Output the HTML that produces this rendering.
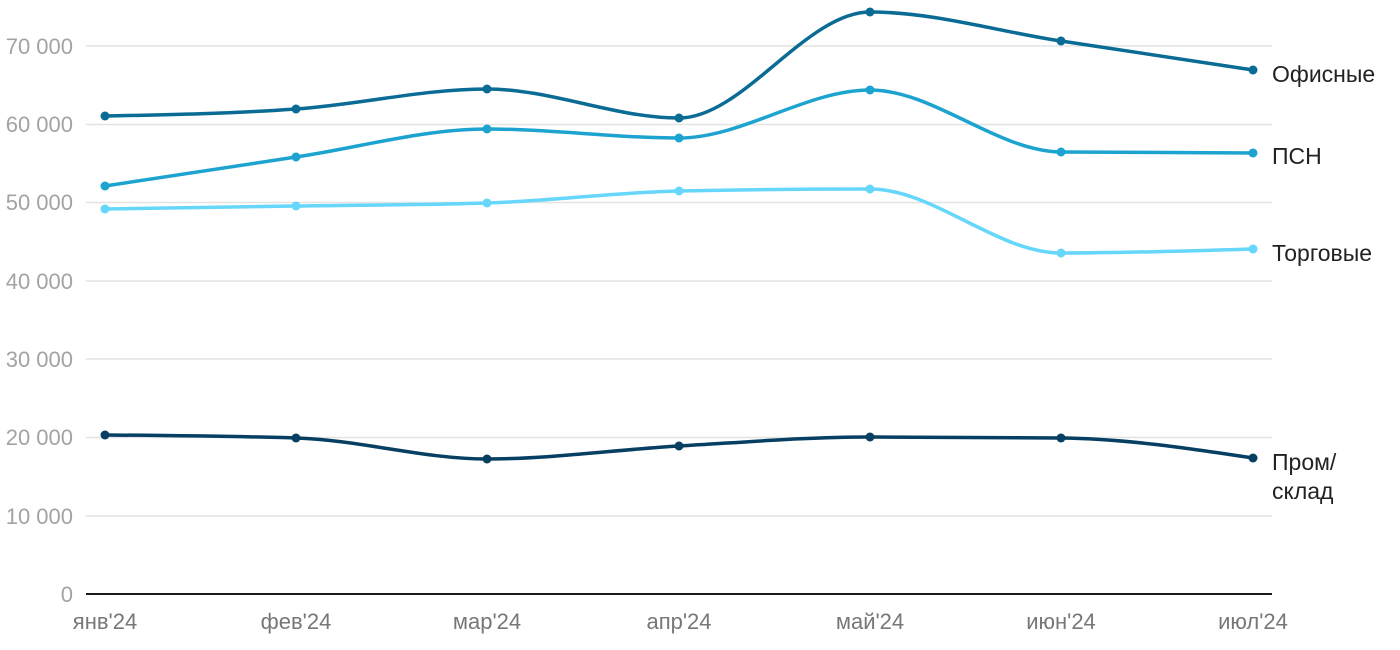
<!DOCTYPE html>
<html><head><meta charset="utf-8"><style>
html,body{margin:0;padding:0;background:#fff;width:1400px;height:650px;overflow:hidden}
svg{display:block;font-family:"Liberation Sans",sans-serif}
</style></head><body>
<svg id="c" width="1400" height="650" xmlns="http://www.w3.org/2000/svg">
<g stroke="#e3e3e3" stroke-width="1.5">
<line x1="86" x2="1272" y1="46" y2="46"/><line x1="86" x2="1272" y1="124.5" y2="124.5"/>
<line x1="86" x2="1272" y1="202.5" y2="202.5"/><line x1="86" x2="1272" y1="281" y2="281"/>
<line x1="86" x2="1272" y1="359" y2="359"/><line x1="86" x2="1272" y1="437.5" y2="437.5"/>
<line x1="86" x2="1272" y1="516" y2="516"/>
</g>
<line x1="86" x2="1272" y1="594" y2="594" stroke="#1a1a1a" stroke-width="2"/>
<g fill="#a3a3a3" font-size="22" text-anchor="end">
<text x="73" y="54">70 000</text><text x="73" y="132">60 000</text><text x="73" y="210">50 000</text>
<text x="73" y="289">40 000</text><text x="73" y="367">30 000</text><text x="73" y="445">20 000</text>
<text x="73" y="524">10 000</text><text x="73" y="602">0</text>
</g>
<g fill="#777" font-size="22" text-anchor="middle">
<text x="105" y="629">янв'24</text><text x="296" y="629">фев'24</text><text x="487" y="629">мар'24</text>
<text x="679" y="629">апр'24</text><text x="870" y="629">май'24</text><text x="1061" y="629">июн'24</text>
<text x="1253" y="629">июл'24</text>
</g>
<g fill="#222" font-size="23">
<text x="1272" y="82">Офисные</text><text x="1272" y="164">ПСН</text><text x="1272" y="261">Торговые</text>
<text x="1272" y="470">Пром/</text><text x="1272" y="499">склад</text>
</g>
<g id="s"></g>
</svg>
<script>
var X=[105,296,487,679,870,1061,1253];
var S=[
["#0a6b95",[116,109,89,118,12,41,70]],
["#1ca3d0",[186,157,129,138,90,152,153]],
["#66d6fb",[209,206,203,191,189,253,249]],
["#073f62",[435,438,459,446,437,438,458]]];
function mono(xs,ys){var n=xs.length,d=[],m=[],i;
for(i=0;i<n-1;i++)d.push((ys[i+1]-ys[i])/(xs[i+1]-xs[i]));
m[0]=d[0];m[n-1]=d[n-2];
for(i=1;i<n-1;i++){if(d[i-1]*d[i]<=0)m[i]=0;else{var h0=xs[i]-xs[i-1],h1=xs[i+1]-xs[i];
var p=(d[i-1]*h1+d[i]*h0)/(h0+h1);m[i]=(Math.sign(d[i-1])+Math.sign(d[i]))*Math.min(Math.abs(d[i-1]),Math.abs(d[i]),0.5*Math.abs(p));}}
m[0]=(3*d[0]-m[1])/2;m[n-1]=(3*d[n-2]-m[n-2])/2;
var s="M"+xs[0]+","+ys[0];
for(i=0;i<n-1;i++){var h=(xs[i+1]-xs[i])/3;
s+="C"+(xs[i]+h)+","+(ys[i]+m[i]*h)+" "+(xs[i+1]-h)+","+(ys[i+1]-m[i+1]*h)+" "+xs[i+1]+","+ys[i+1];}
return s;}
var g=document.getElementById("s"),h="";
S.forEach(function(a){h+='<path d="'+mono(X,a[1])+'" fill="none" stroke="'+a[0]+'" stroke-width="3.5"/>';
a[1].forEach(function(y,i){h+='<circle cx="'+X[i]+'" cy="'+y+'" r="4.5" fill="'+a[0]+'"/>';});});
g.innerHTML=h;
</script>
</body></html>
